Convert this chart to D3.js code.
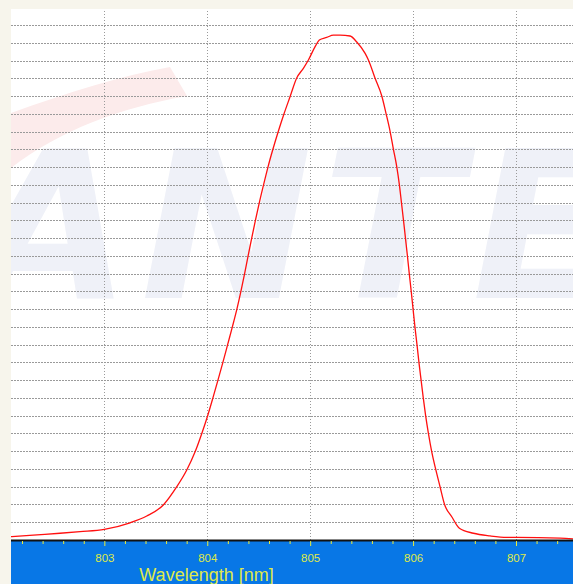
<!DOCTYPE html>
<html>
<head>
<meta charset="utf-8">
<script src="https://cdn.jsdelivr.net/npm/d3@7"></script>
<style>
html,body{margin:0;padding:0;background:#f7f5ec;overflow:hidden;}
svg{display:block;}
</style>
</head>
<body>
<svg id="chart" width="573" height="584"></svg>
<script>
// Wavelength (nm) samples of the spectrum
const wavelength = [802.093,802.310,802.569,802.764,803.000,803.250,803.412,803.573,803.704,803.801,803.881,803.947,804.004,804.055,804.104,804.152,804.198,804.244,804.288,804.327,804.363,804.397,804.432,804.468,804.506,804.547,804.590,804.638,804.690,804.746,804.807,804.868,804.934,804.983,805.048,805.089,805.161,805.226,805.291,805.388,805.453,805.534,805.566,805.631,805.696,805.738,805.777,805.809,805.842,805.867,805.887,805.907,805.926,805.945,805.963,805.982,806.000,806.018,806.038,806.057,806.078,806.099,806.122,806.149,806.180,806.219,806.262,806.306,806.376,806.450,806.586,806.748,806.911,807.008,807.429,807.555];
// Intensity (in gridline units)
const intensity = [0.19,0.28,0.38,0.47,0.60,0.97,1.35,1.97,3.00,3.94,4.95,6,7,8,9,10,11,12,13,14,15,16,17,18,19,20,21,22,23,24,25,26,26.56,27.03,27.78,28.15,28.30,28.43,28.43,28.38,28.04,27.40,27.03,26,25,24,23,22,21,20,19,18,17,16,15,14,13,12,11,10,9,8,7,6,5,4,3,2,1.31,0.66,0.38,0.23,0.15,0.15,0.10,0.06];
const xMajorTicks = [803,804,805,806,807];
const xMinorTicks = [802.2,802.4,802.6,802.8,803.2,803.4,803.6,803.8,804.2,804.4,804.6,804.8,805.2,805.4,805.6,805.8,806.2,806.4,806.6,806.8,807.2,807.4];
const yGridTicks = d3.range(1, 30);
const xTitle = "Wavelength [nm]";
const xDomain = [802.093, 807.554];
const yDomain = [0, 29.9];

const svg = d3.select("#chart");
const L = 11, R = 573, T = 9, B = 540;
const x = d3.scaleLinear().domain(xDomain).range([L, R]);
const y = d3.scaleLinear().domain(yDomain).range([B, T]);

// plot background
svg.append("rect").attr("x", L).attr("y", T).attr("width", R - L).attr("height", B - T).attr("fill", "#ffffff");

// watermark
const clip = svg.append("clipPath").attr("id", "pc");
clip.append("rect").attr("x", L).attr("y", T).attr("width", R - L).attr("height", B - T);
const wm = svg.append("g").attr("clip-path", "url(#pc)");
wm.append("path")
  .attr("d", "M11,113 C70,92 120,76 170,67 L187,96 C120,108 60,130 11,168 Z")
  .attr("fill", "#fcebeb");
wm.append("text")
  .attr("x", -28).attr("y", 298)
  .attr("font-family", "DejaVu Sans").attr("font-weight", "bold").attr("font-style", "italic")
  .attr("font-size", 205).attr("letter-spacing", 10)
  .attr("fill", "#eff1f8")
  .text("ANTE");

// horizontal gridlines
svg.append("g")
  .attr("transform", `translate(${L},0)`)
  .call(d3.axisLeft(y).tickValues(yGridTicks).tickSize(-(R - L)).tickFormat(""))
  .call(g => g.select(".domain").remove())
  .call(g => g.selectAll("line").attr("stroke", "#9a9a9a").attr("stroke-dasharray", "1.5,1.5").attr("shape-rendering", "crispEdges"));

// vertical gridlines
svg.append("g")
  .attr("transform", `translate(0,${B})`)
  .call(d3.axisBottom(x).tickValues(xMajorTicks).tickSize(-(B - T)).tickFormat(""))
  .call(g => g.select(".domain").remove())
  .call(g => g.selectAll("line").attr("stroke", "#9a9a9a").attr("stroke-dasharray", "1.5,1.5").attr("shape-rendering", "crispEdges"));

// spectrum line
const data = wavelength.map((w, i) => ({w, v: intensity[i]}));
svg.append("path")
  .datum(data)
  .attr("clip-path", "url(#pc)")
  .attr("fill", "none")
  .attr("stroke", "#ff1010")
  .attr("stroke-width", 1.3)
  .attr("d", d3.line().x(d => x(d.w)).y(d => y(d.v)).curve(d3.curveMonotoneX));

// axis band
svg.append("rect").attr("x", L).attr("y", B).attr("width", R - L).attr("height", 584 - B).attr("fill", "#0877e6");
svg.append("line").attr("x1", L).attr("x2", R).attr("y1", B + 0.5).attr("y2", B + 0.5).attr("stroke", "#111").attr("stroke-width", 2);

// minor ticks
svg.append("g")
  .attr("transform", `translate(0,${B + 1})`)
  .call(d3.axisBottom(x).tickValues(xMinorTicks).tickSize(3).tickFormat(""))
  .call(g => g.select(".domain").remove())
  .call(g => g.selectAll("line").attr("stroke", "#e8ec3a"));

// major ticks + labels
svg.append("g")
  .attr("transform", `translate(0,${B + 1})`)
  .call(d3.axisBottom(x).tickValues(xMajorTicks).tickSize(5).tickPadding(8).tickFormat(d3.format("d")))
  .call(g => g.select(".domain").remove())
  .call(g => g.selectAll("line").attr("stroke", "#e8ec3a"))
  .call(g => g.selectAll("text").attr("fill", "#dfe94a").attr("font-family", "Liberation Sans, Arial, sans-serif").attr("font-size", 11.5));

svg.append("text")
  .attr("x", 206.5).attr("y", 581)
  .attr("text-anchor", "middle")
  .attr("font-family", "Liberation Sans, Arial, sans-serif")
  .attr("font-size", 18)
  .attr("fill", "#dfe94a")
  .text(xTitle);
</script>
</body>
</html>
